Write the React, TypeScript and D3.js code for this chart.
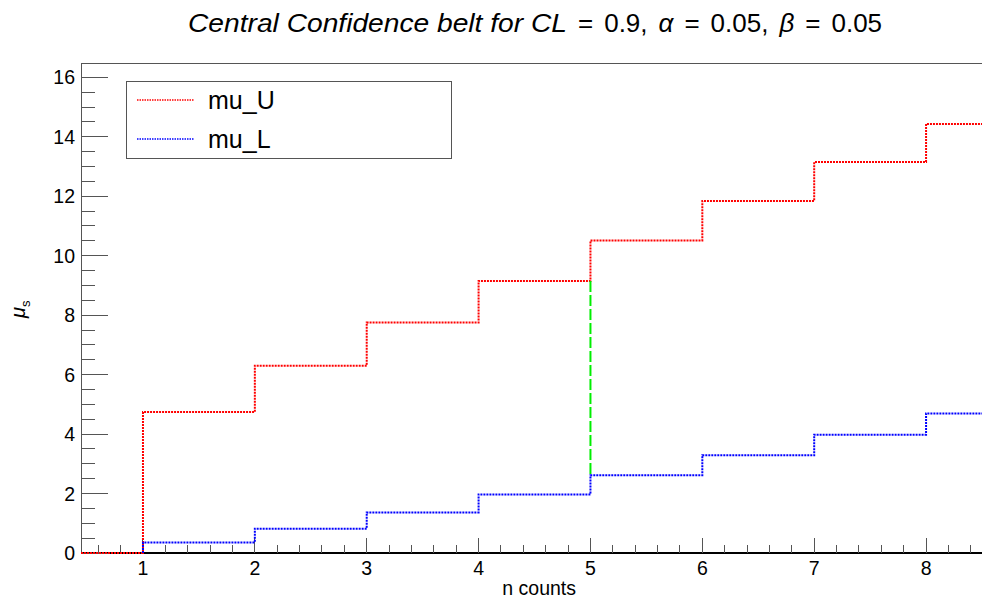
import React, { useEffect, useRef } from 'react';
import * as d3 from 'd3';

// step edges on n, and the step heights
const edges = [0.446, 1, 2, 3, 4, 5, 6, 7, 8, 8.5];
const muUpper = [0, 4.74, 6.3, 7.75, 9.15, 10.51, 11.84, 13.15, 14.43];
const muLower = [0, 0.355, 0.818, 1.366, 1.97, 2.613, 3.285, 3.981, 4.695];
const markN = 5;
const markLow = 2.613;
const markHigh = 9.15;
const xTicks = [1, 2, 3, 4, 5, 6, 7, 8];
const yTicks = [0, 2, 4, 6, 8, 10, 12, 14, 16];
const legendItems = [
  { name: 'mu_U', color: '#ff0000' },
  { name: 'mu_L', color: '#0000ff' },
];
// title pieces: text, italic
const titleParts: [string, boolean][] = [
  ['Central Confidence belt for CL', true],
  ['=', false],
  ['0.9,', false],
  ['α', true],
  ['=', false],
  ['0.05,', false],
  ['β', true],
  ['=', false],
  ['0.05', false],
];

const W = 982;
const H = 600;
const FONT = '"Liberation Sans", Arial, sans-serif';

const App = () => {
  const ref = useRef<SVGSVGElement>(null);

  useEffect(() => {
    const svg = d3.select(ref.current);
    svg.selectAll('*').remove();

    const left = 81;
    const right = 982;
    const top = 63;
    const bottom = 553;

    const x = d3.scaleLinear().domain([edges[0], 8.5]).range([left, right]);
    const y = d3.scaleLinear().domain([0, 16.48]).range([bottom, top]);

    svg.append('rect').attr('width', W).attr('height', H).attr('fill', '#fff');

    // frame
    svg.append('path')
      .attr('d', `M${left},${bottom}V${top}H${right + 5}`)
      .attr('fill', 'none').attr('stroke', '#555').attr('stroke-width', 1)
      .attr('shape-rendering', 'crispEdges');

    // x axis
    const xAxis = svg.append('g').attr('shape-rendering', 'crispEdges');
    xAxis.append('line')
      .attr('x1', left).attr('x2', right).attr('y1', bottom).attr('y2', bottom)
      .attr('stroke', '#000').attr('stroke-width', 1.5);
    const xMinor = d3.range(0.6, 8.5, 0.2).filter((v) => Math.abs(v - Math.round(v)) > 0.01);
    xAxis.selectAll('.xmin').data(xMinor).enter().append('line')
      .attr('x1', (d) => x(d)).attr('x2', (d) => x(d))
      .attr('y1', bottom).attr('y2', bottom - 8)
      .attr('stroke', '#555');
    xAxis.selectAll('.xmaj').data(xTicks).enter().append('line')
      .attr('x1', (d) => x(d)).attr('x2', (d) => x(d))
      .attr('y1', bottom).attr('y2', bottom - 15)
      .attr('stroke', '#555');
    xAxis.selectAll('.xlab').data(xTicks).enter().append('text')
      .attr('x', (d) => x(d)).attr('y', 575)
      .attr('text-anchor', 'middle')
      .attr('font-family', FONT).attr('font-size', 19.5)
      .text((d) => d);
    svg.append('text')
      .attr('x', 576).attr('y', 595).attr('text-anchor', 'end')
      .attr('font-family', FONT).attr('font-size', 19.5)
      .text('n counts');

    // y axis
    const yAxis = svg.append('g').attr('shape-rendering', 'crispEdges');
    const yMinor = d3.range(0.5, 16.4, 0.5).filter((v) => v % 2 !== 0);
    yAxis.selectAll('.ymin').data(yMinor).enter().append('line')
      .attr('x1', left).attr('x2', left + 14)
      .attr('y1', (d) => y(d)).attr('y2', (d) => y(d))
      .attr('stroke', '#555');
    yAxis.selectAll('.ymaj').data(yTicks).enter().append('line')
      .attr('x1', left).attr('x2', left + 27)
      .attr('y1', (d) => y(d)).attr('y2', (d) => y(d))
      .attr('stroke', '#555');
    yAxis.selectAll('.ylab').data(yTicks).enter().append('text')
      .attr('x', 75).attr('y', (d) => y(d) + 7)
      .attr('text-anchor', 'end')
      .attr('font-family', FONT).attr('font-size', 19.5)
      .text((d) => d);

    const yt = svg.append('text')
      .attr('transform', 'translate(25,318) rotate(-90)')
      .attr('font-family', FONT).attr('font-size', 20);
    yt.append('tspan').attr('font-style', 'italic').text('μ');
    yt.append('tspan').attr('font-size', 13).attr('dy', 5).text('s');

    // step lines, drawn over the axis
    const stepPath = (vals: number[], from: number) => {
      const pts: [number, number][] = [];
      vals.forEach((v, i) => {
        if (i < from) return;
        pts.push([edges[i], i === from && i > 0 ? vals[i - 1] : v]);
        if (i === from && i > 0) pts.push([edges[i], v]);
        pts.push([edges[i + 1], v]);
      });
      return d3.line<[number, number]>().x((d) => x(d[0])).y((d) => y(d[1]))(pts);
    };

    svg.append('path')
      .attr('d', stepPath(muUpper, 0))
      .attr('fill', 'none').attr('stroke', '#ff0000').attr('stroke-width', 2)
      .attr('stroke-dasharray', '2,1');
    svg.append('path')
      .attr('d', stepPath(muLower, 1))
      .attr('fill', 'none').attr('stroke', '#0000ff').attr('stroke-width', 2)
      .attr('stroke-dasharray', '2,1');

    svg.append('line')
      .attr('x1', x(markN)).attr('x2', x(markN))
      .attr('y1', y(markHigh)).attr('y2', y(markLow))
      .attr('stroke', '#00ee00').attr('stroke-width', 2)
      .attr('stroke-dasharray', '11,3');

    // title: pieces laid out left to right with ROOT-like gaps
    const tg = svg.append('g').attr('font-family', FONT).attr('font-size', 26);
    let cx = 188;
    titleParts.forEach(([txt, it], i) => {
      const el = tg.append('text')
        .attr('x', cx).attr('y', 32)
        .attr('font-style', it ? 'italic' : 'normal')
        .text(txt);
      if (i === 0) el.attr('textLength', 379).attr('lengthAdjust', 'spacingAndGlyphs');
      const w = i === 0 ? 379 : (el.node() as SVGTextElement).getComputedTextLength();
      cx += w + 11;
    });

    // legend
    const lg = svg.append('g');
    lg.append('rect')
      .attr('x', 126.5).attr('y', 81.5).attr('width', 325).attr('height', 77)
      .attr('fill', '#fff').attr('stroke', '#555').attr('stroke-width', 1);
    legendItems.forEach((it, i) => {
      const yy = 100 + i * 39;
      lg.append('line')
        .attr('x1', 137).attr('x2', 194).attr('y1', yy).attr('y2', yy)
        .attr('stroke', it.color).attr('stroke-width', 1.5)
        .attr('stroke-dasharray', '1.5,1');
      lg.append('text')
        .attr('x', 208).attr('y', yy + 9)
        .attr('font-family', FONT).attr('font-size', 25)
        .text(it.name);
    });
  }, []);

  return (
    <svg
      ref={ref}
      width={W}
      height={H}
      style={{ display: 'block', position: 'absolute', left: 0, top: 0 }}
    />
  );
};

export default App;
